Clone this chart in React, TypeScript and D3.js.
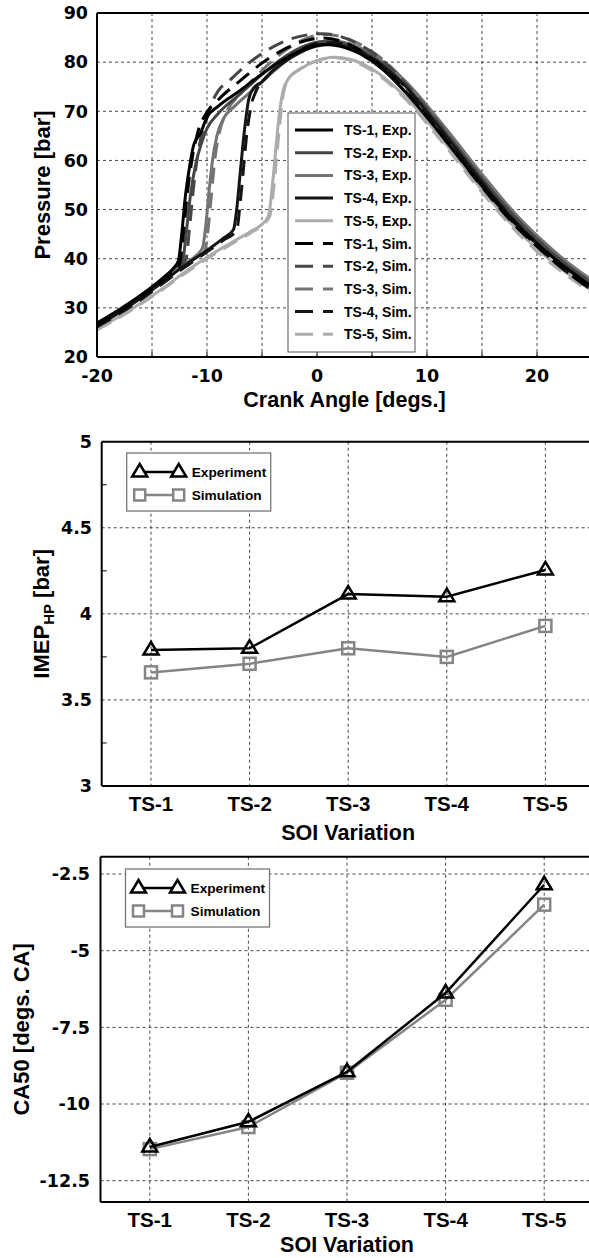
import React from 'react';
import * as d3 from 'd3';

// ---------- Pressure chart data ----------
const crankTicks = [-20, -10, 0, 10, 20];
const crankGrid = [-15, -10, -5, 0, 5, 10, 15, 20];
const pressureTicks = [20, 30, 40, 50, 60, 70, 80, 90];
const pressureGrid = [30, 40, 50, 60, 70, 80];

type P = [number, number];
const ts1Exp: P[] = [[-20,26.9],[-18,29.6],[-16,32.6],[-14,36.1],[-13,38.2],[-12.6,39.6],[-12.3,45],[-12,52],[-11.6,58.5],[-11.2,63.2],[-10.6,65.5],[-10,68.8],[-9,71],[-7,74.2],[-5,77.6],[-3,80.6],[-1,82.8],[0.5,83.6],[2,83.3],[4,81.6],[6,78.5],[8,74],[10,68.8],[12,63.2],[15,54.8],[18,47.2],[20,43],[22,39.3],[25,34.3]];
const ts2Exp: P[] = [[-20,26.7],[-18,29.4],[-16,32.4],[-14,35.9],[-13,38],[-12.2,39.8],[-11.9,45],[-11.5,53],[-11,59.5],[-10.5,63.5],[-10,66.5],[-9,69.5],[-7,73.5],[-5,77.5],[-3,81],[-1,83.4],[0.5,84.2],[2,84],[4,82.4],[6,79.6],[8,75.3],[10,70.3],[12,64.8],[15,56.3],[18,48.5],[20,44],[22,40],[25,35]];
const ts3Exp: P[] = [[-20,26.4],[-18,29.1],[-16,32.1],[-14,35.5],[-12,39],[-11,40.6],[-10.4,42.2],[-10.1,47],[-9.8,54],[-9.5,60],[-9.1,65],[-8.5,68.5],[-7.5,71],[-6,74],[-4,78],[-2,81.6],[0,83.8],[1.5,84.3],[3,83.7],[5,81.6],[8,76.2],[10,71.2],[12,65.7],[15,57.2],[18,49.2],[20,44.7],[22,40.7],[25,35.6]];
const ts4Exp: P[] = [[-20,26.3],[-18,29],[-16,32],[-14,35.3],[-12,38.7],[-10,41.7],[-8.5,44.2],[-7.6,45.9],[-7.3,50],[-7,57],[-6.6,66],[-6.2,72.5],[-5.8,74.6],[-5,76],[-4,78.3],[-3,80],[-1.5,82],[0,83.3],[1.5,83.6],[3,82.9],[5,80.7],[8,75.2],[10,69.8],[12,64.2],[15,55.6],[18,47.6],[20,43.2],[22,39.2],[25,34.2]];
const ts5Exp: P[] = [[-20,25.7],[-18,28.2],[-16,31],[-14,34],[-12,37.3],[-10,40.3],[-8,43],[-6,45.6],[-5,47],[-4.4,48.8],[-4.1,54],[-3.8,61],[-3.5,68],[-3.1,74],[-2.6,76.6],[-1.5,78.6],[0,80.3],[1.5,81],[3,80.6],[5,78.6],[8,73],[10,68],[12,62.5],[15,54],[18,46.3],[20,42],[22,38.3],[25,33.5]];
const ts1Sim: P[] = [[-20,26.5],[-18,29.2],[-16,32.2],[-14,35.6],[-13,37.6],[-12.5,38.8],[-12.2,44],[-11.8,53],[-11.3,61],[-10.8,66],[-10,69.8],[-9,72.3],[-7,76.2],[-5,79.8],[-3,82.6],[-1,84.4],[0.5,84.9],[2,84.4],[4,82.3],[6,78.9],[8,74.2],[10,68.9],[12,63.2],[15,54.6],[18,46.8],[20,42.5],[22,38.6],[25,33.6]];
const ts2Sim: P[] = [[-20,26.4],[-18,29.1],[-16,32.1],[-14,35.5],[-12.5,38.5],[-11.9,40],[-11.6,46],[-11.2,55],[-10.7,63],[-10.1,68],[-9.4,72.5],[-7.6,77],[-5.1,81.6],[-3,84.2],[-1,85.5],[0.5,85.8],[2,85.3],[4,83.4],[6,80.3],[8,75.8],[10,70.6],[12,64.9],[15,56.2],[18,48.2],[20,43.7],[22,39.7],[25,34.6]];
const ts3Sim: P[] = [[-20,26.2],[-18,28.9],[-16,31.8],[-14,35.1],[-12,38.5],[-11,40],[-10.2,41.5],[-9.9,46],[-9.6,53],[-9.3,60],[-8.9,65.5],[-8.3,69.5],[-7,73.5],[-5,78.3],[-3,82.2],[-1,84.8],[0.5,85.6],[2,85.3],[4,83.5],[6,80.5],[8,76.1],[10,71],[12,65.4],[15,56.8],[18,48.8],[20,44.3],[22,40.2],[25,35.1]];
const ts4Sim: P[] = [[-20,26.1],[-18,28.8],[-16,31.7],[-14,35],[-12,38.3],[-10,41.4],[-8.5,43.8],[-7.3,45.8],[-7,51],[-6.7,58],[-6.4,65],[-6,71],[-5.5,74.3],[-4.5,77.2],[-3,80.3],[-1.5,82.5],[0,83.8],[1.5,84],[3,83.2],[5,80.8],[8,75],[10,69.5],[12,63.8],[15,55],[18,47],[20,42.6],[22,38.6],[25,33.6]];
const ts5Sim: P[] = [[-20,25.5],[-18,28],[-16,30.8],[-14,33.8],[-12,37],[-10,40],[-8,42.7],[-6,45.3],[-5,46.8],[-4.3,48.6],[-4,53],[-3.7,60],[-3.4,67],[-3.1,73],[-2.6,76.5],[-1.5,78.7],[0,80.3],[1.5,80.9],[3,80.4],[5,78.3],[8,72.6],[10,67.5],[12,62],[15,53.5],[18,45.8],[20,41.5],[22,37.8],[25,33]];

const pressureSeries = [ts1Exp, ts2Exp, ts3Exp, ts4Exp, ts5Exp, ts1Sim, ts2Sim, ts3Sim, ts4Sim, ts5Sim];
const pressureNames = ['TS-1, Exp.', 'TS-2, Exp.', 'TS-3, Exp.', 'TS-4, Exp.', 'TS-5, Exp.', 'TS-1, Sim.', 'TS-2, Sim.', 'TS-3, Sim.', 'TS-4, Sim.', 'TS-5, Sim.'];
const pressureColors = ['#000000', '#464646', '#747474', '#141414', '#acacac', '#000000', '#464646', '#747474', '#141414', '#acacac'];
const pressureDashed = [false, false, false, false, false, true, true, true, true, true];

// ---------- IMEP / CA50 data ----------
const cases = ['TS-1', 'TS-2', 'TS-3', 'TS-4', 'TS-5'];
const imepExp = [3.79, 3.80, 4.115, 4.10, 4.255];
const imepSim = [3.66, 3.71, 3.80, 3.75, 3.93];
const ca50Exp = [-11.4, -10.58, -8.95, -6.38, -2.85];
const ca50Sim = [-11.47, -10.75, -8.98, -6.6, -3.5];
const imepTicks = [3, 3.5, 4, 4.5, 5];
const imepMinor = [3.25, 3.75, 4.25, 4.75];
const ca50Ticks = [-12.5, -10, -7.5, -5, -2.5];

const NUM_FONT = 'DejaVu Sans, sans-serif';
const TXT_FONT = 'Liberation Sans, Arial, sans-serif';
const GRID = { stroke: '#333', strokeWidth: 0.9, strokeDasharray: '3,3' };

function PressureChart() {
  const L = 97, R = 592, T = 13, B = 357;
  const x = d3.scaleLinear().domain([-20, 25]).range([L, R]);
  const y = d3.scaleLinear().domain([20, 90]).range([B, T]);
  const line = d3.line<P>().x(d => x(d[0])).y(d => y(d[1])).curve(d3.curveMonotoneX);
  const legX = 288, legY = 113, legW = 127, legH = 239;
  const rowY = (i: number) => 130 + i * 22.7;
  return (
    <g>
      <defs>
        <clipPath id="pclip"><rect x={L} y={T} width={R - L} height={B - T} /></clipPath>
      </defs>
      {crankGrid.map(v => <line key={'gx' + v} x1={x(v)} x2={x(v)} y1={T} y2={B} {...GRID} />)}
      {pressureGrid.map(v => <line key={'gy' + v} x1={L} x2={R} y1={y(v)} y2={y(v)} {...GRID} />)}
      <g clipPath="url(#pclip)">
        {[4, 9, 2, 7, 1, 6, 3, 8, 0, 5].map(i => (
          <path key={'s' + i} d={line(pressureSeries[i]) || ''} fill="none" stroke={pressureColors[i]} strokeWidth={3}
            strokeDasharray={pressureDashed[i] ? '16,9' : undefined} strokeLinejoin="round" />
        ))}
      </g>
      {crankGrid.map(v => <line key={'tx' + v} x1={x(v)} x2={x(v)} y1={B} y2={B - 5} stroke="#000" strokeWidth={1} />)}
      <line x1={L} x2={R} y1={T} y2={T} stroke="#000" strokeWidth={2} />
      <line x1={L} x2={R} y1={B} y2={B} stroke="#000" strokeWidth={2} />
      <line x1={L} x2={L} y1={T} y2={B} stroke="#000" strokeWidth={2} />
      {crankTicks.map(v => (
        <text key={'xl' + v} x={x(v)} y={382} textAnchor="middle" fontFamily={NUM_FONT} fontWeight="bold" fontSize={17.5}>{v}</text>
      ))}
      {pressureTicks.map(v => (
        <text key={'yl' + v} x={88} y={y(v)} dy="0.36em" textAnchor="end" fontFamily={NUM_FONT} fontWeight="bold" fontSize={17.5}>{v}</text>
      ))}
      <text x={(L + R) / 2} y={407} textAnchor="middle" fontFamily={TXT_FONT} fontWeight="bold" fontSize={21.5}>Crank Angle [degs.]</text>
      <text transform={`translate(50,${(T + B) / 2}) rotate(-90)`} textAnchor="middle" fontFamily={TXT_FONT} fontWeight="bold" fontSize={22}>Pressure [bar]</text>
      <rect x={legX} y={legY} width={legW} height={legH} fill="#fff" stroke="#555" strokeWidth={1} />
      {pressureNames.map((n, i) => (
        <g key={'lg' + i}>
          <line x1={295} x2={333} y1={rowY(i)} y2={rowY(i)} stroke={pressureColors[i]} strokeWidth={3}
            strokeDasharray={pressureDashed[i] ? '18,10' : undefined} />
          <text x={344} y={rowY(i)} dy="0.36em" fontFamily={TXT_FONT} fontWeight="bold" fontSize={14}>{n}</text>
        </g>
      ))}
    </g>
  );
}

function triPath(cx: number, cy: number) {
  return `M${cx},${cy - 8}L${cx + 7.5},${cy + 4.5}L${cx - 7.5},${cy + 4.5}Z`;
}

type CatProps = {
  L: number; T: number; B: number; domain: [number, number];
  exp: number[]; sim: number[]; ticks: number[]; minor: number[];
  tickFmt: (v: number) => string; tickRight: number;
  yTitle: React.ReactNode; yTitleX: number;
  tsY: number; soiY: number; legTop: number;
};

function CategoryChart(p: CatProps) {
  const R = p.L + 493;
  const x = d3.scaleLinear().domain([0.5, 5.5]).range([p.L, R]);
  const y = d3.scaleLinear().domain(p.domain).range([p.B, p.T]);
  const idx = cases.map((_, i) => i + 1);
  const line = d3.line<number>().x((_, i) => x(i + 1)).y(d => y(d));
  const expC = '#000', simC = '#858585';
  const gy1 = p.legTop + 19, gy2 = p.legTop + 42;
  return (
    <g>
      {idx.map(i => <line key={'gx' + i} x1={x(i)} x2={x(i)} y1={p.T} y2={p.B} {...GRID} />)}
      {p.ticks.filter(v => y(v) > p.T + 1 && y(v) < p.B - 1).map(v => (
        <line key={'gy' + v} x1={p.L} x2={R} y1={y(v)} y2={y(v)} {...GRID} />
      ))}
      {p.minor.map(v => (
        <g key={'mn' + v}>
          <line x1={p.L} x2={p.L + 5} y1={y(v)} y2={y(v)} stroke="#000" strokeWidth={1} />
          <line x1={R} x2={R - 5} y1={y(v)} y2={y(v)} stroke="#000" strokeWidth={1} />
        </g>
      ))}
      <path d={line(p.sim) || ''} fill="none" stroke={simC} strokeWidth={2.5} />
      {p.sim.map((v, i) => (
        <rect key={'sq' + i} x={x(i + 1) - 6} y={y(v) - 6} width={12} height={12} fill="none" stroke={simC} strokeWidth={2.5} />
      ))}
      <path d={line(p.exp) || ''} fill="none" stroke={expC} strokeWidth={2.5} />
      {p.exp.map((v, i) => (
        <path key={'tr' + i} d={triPath(x(i + 1), y(v))} fill="none" stroke={expC} strokeWidth={2.5} strokeLinejoin="miter" />
      ))}
      <line x1={p.L} x2={R} y1={p.T} y2={p.T} stroke="#000" strokeWidth={2} />
      <line x1={p.L} x2={R} y1={p.B} y2={p.B} stroke="#000" strokeWidth={2} />
      <line x1={p.L} x2={p.L} y1={p.T} y2={p.B} stroke="#000" strokeWidth={2} />
      {p.ticks.map(v => (
        <text key={'yl' + v} x={p.tickRight} y={y(v)} dy="0.36em" textAnchor="end" fontFamily={NUM_FONT} fontWeight="bold" fontSize={17.5}>{p.tickFmt(v)}</text>
      ))}
      {cases.map((c, i) => (
        <text key={'c' + c} x={x(i + 1)} y={p.tsY} textAnchor="middle" fontFamily={TXT_FONT} fontWeight="bold" fontSize={20.5}>{c}</text>
      ))}
      <text x={(p.L + R) / 2} y={p.soiY} textAnchor="middle" fontFamily={TXT_FONT} fontWeight="bold" fontSize={21.5}>SOI Variation</text>
      <text transform={`translate(${p.yTitleX},${(p.T + p.B) / 2}) rotate(-90)`} textAnchor="middle" fontFamily={TXT_FONT} fontWeight="bold" fontSize={22}>{p.yTitle}</text>
      <rect x={p.L + 25} y={p.legTop} width={144} height={58} fill="#fff" stroke="#777" strokeWidth={1.3} />
      <line x1={p.L + 38} x2={p.L + 77} y1={gy1} y2={gy1} stroke={expC} strokeWidth={2.5} />
      <path d={triPath(p.L + 38, gy1)} fill="#fff" stroke={expC} strokeWidth={2.5} />
      <path d={triPath(p.L + 77, gy1)} fill="#fff" stroke={expC} strokeWidth={2.5} />
      <line x1={p.L + 38} x2={p.L + 77} y1={gy2} y2={gy2} stroke={simC} strokeWidth={2.5} />
      <rect x={p.L + 38 - 5.5} y={gy2 - 5.5} width={11} height={11} fill="#fff" stroke={simC} strokeWidth={2.5} />
      <rect x={p.L + 77 - 5.5} y={gy2 - 5.5} width={11} height={11} fill="#fff" stroke={simC} strokeWidth={2.5} />
      <text x={p.L + 90} y={gy1} dy="0.36em" fontFamily={TXT_FONT} fontWeight="bold" fontSize={13.7}>Experiment</text>
      <text x={p.L + 90} y={gy2} dy="0.36em" fontFamily={TXT_FONT} fontWeight="bold" fontSize={13.7}>Simulation</text>
    </g>
  );
}

export default function App() {
  const yB = d3.scaleLinear().domain([-12.5, -2.5]).range([1180.7, 874]);
  return (
    <svg width={589} height={1258} style={{ position: 'absolute', left: 0, top: 0, background: '#fff' }}>
      <rect x={0} y={0} width={589} height={1258} fill="#fff" />
      <PressureChart />
      <CategoryChart L={101.7} T={441.7} B={786} domain={[3, 5]} exp={imepExp} sim={imepSim}
        ticks={imepTicks} minor={imepMinor} tickFmt={v => String(v)} tickRight={92}
        yTitle={<>IMEP<tspan fontSize={15} dy={5}>HP</tspan><tspan dy={-5}> [bar]</tspan></>} yTitleX={49}
        tsY={811} soiY={840} legTop={453} />
      <CategoryChart L={100.5} T={856.7} B={1202} domain={[yB.invert(1202), yB.invert(856.7)]} exp={ca50Exp} sim={ca50Sim}
        ticks={ca50Ticks} minor={[]} tickFmt={v => String(v)} tickRight={90}
        yTitle={'CA50 [degs. CA]'} yTitleX={29}
        tsY={1227} soiY={1252} legTop={869} />
    </svg>
  );
}
